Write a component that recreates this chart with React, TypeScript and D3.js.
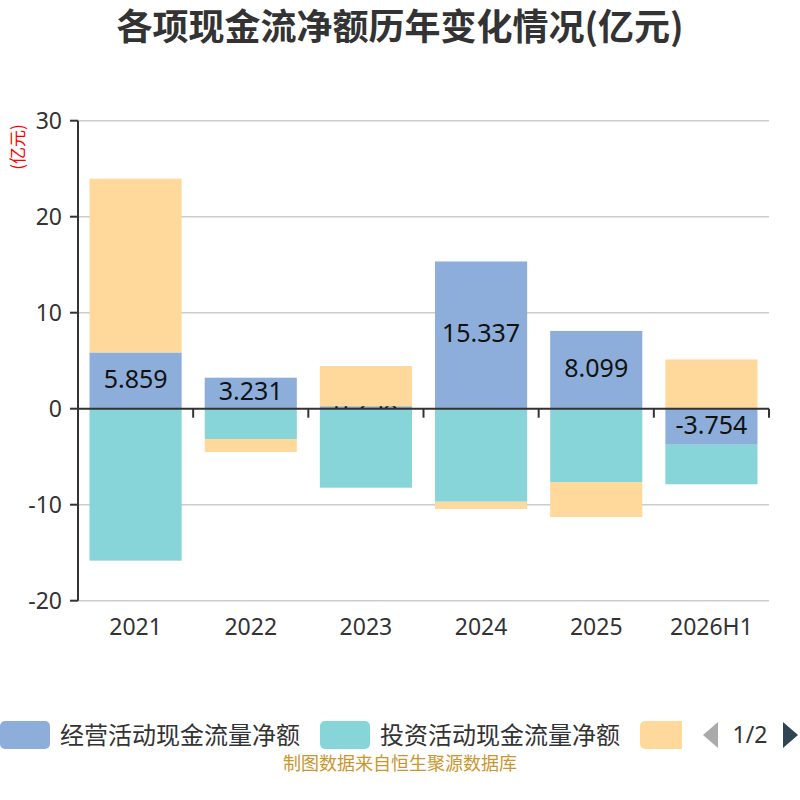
import React from 'react';
import * as d3 from 'd3';

const categories = ['2021', '2022', '2023', '2024', '2025', '2026H1'];
const operating = [5.859, 3.231, 0.258, 15.337, 8.099, -3.754];
const investing = [-15.83, -3.16, -8.23, -9.69, -7.64, -4.12];
const financing = [18.1, -1.35, 4.19, -0.76, -3.64, 5.13];
const yTicks = [-20, -10, 0, 10, 20, 30];

const seriesNames = ['经营活动现金流量净额', '投资活动现金流量净额', '筹资活动现金流量净额'];
const seriesColors = ['#8DAEDA', '#87D5D9', '#FED99B'];

const W = 800;
const H = 800;
const left = 78;
const right = 769;
const top = 120.7;
const bottom = 600.7;

const numFont = "'Noto Sans', 'Noto Sans CJK SC', sans-serif";
const cjkFont = "'Noto Sans CJK SC', 'Noto Sans', sans-serif";

export default function App() {
  const y = d3.scaleLinear().domain([-20, 30]).range([bottom, top]);
  const x = d3.scaleBand<string>().domain(categories).range([left, right]).paddingInner(0.2).paddingOuter(0.1);
  const step = x.step();
  const bw = x.bandwidth();

  const allSeries = [operating, investing, financing];
  type Seg = { cat: string; s: number; y0: number; y1: number; v: number };
  const segs: Seg[] = [];
  categories.forEach((cat, i) => {
    let pos = 0;
    let neg = 0;
    allSeries.forEach((arr, s) => {
      const v = arr[i];
      if (v >= 0) {
        segs.push({ cat, s, y0: pos, y1: pos + v, v });
        pos += v;
      } else {
        segs.push({ cat, s, y0: neg, y1: neg + v, v });
        neg += v;
      }
    });
  });

  const boundaries = d3.range(categories.length + 1).map((k) => left + k * step);

  return (
    <div style={{ position: 'absolute', left: 0, top: 0 }}>
      <svg width={W} height={H} style={{ display: 'block', background: '#fff' }}>
        <defs>
          {segs
            .filter((d) => d.s === 0)
            .map((d, i) => (
              <clipPath id={`clip-op-${i}`} key={i}>
                <rect
                  x={x(d.cat)!}
                  y={Math.min(y(d.y0), y(d.y1))}
                  width={bw}
                  height={Math.abs(y(d.y1) - y(d.y0))}
                />
              </clipPath>
            ))}
          <clipPath id="legend-clip">
            <rect x={0} y={700} width={682} height={80} />
          </clipPath>
        </defs>

        <text x={400} y={40} textAnchor="middle" fontFamily={cjkFont} fontWeight="bold" fontSize={36} fill="#333">
          各项现金流净额历年变化情况(亿元)
        </text>

        <text
          transform={`translate(18,147) rotate(-90)`}
          textAnchor="middle"
          dy="0.36em"
          fontFamily={cjkFont}
          fontSize={17}
          fill="#ff0000"
        >
          (亿元)
        </text>

        {/* grid lines */}
        {yTicks
          .filter((t) => t !== 0)
          .map((t) => (
            <line key={t} x1={left} x2={right} y1={y(t)} y2={y(t)} stroke="#cccccc" strokeWidth={1.5} />
          ))}

        {/* bars */}
        {segs.map((d, i) => (
          <rect
            key={i}
            x={x(d.cat)!}
            y={Math.min(y(d.y0), y(d.y1))}
            width={bw}
            height={Math.abs(y(d.y1) - y(d.y0))}
            fill={seriesColors[d.s]}
          />
        ))}

        {/* labels for operating series */}
        {segs
          .filter((d) => d.s === 0)
          .map((d, i) => (
            <text
              key={i}
              clipPath={`url(#clip-op-${i})`}
              x={x(d.cat)! + bw / 2}
              y={(y(d.y0) + y(d.y1)) / 2 - 2}
              dy="0.36em"
              textAnchor="middle"
              fontFamily={numFont}
              fontSize={25}
              fill="#111"
            >
              {d.v.toFixed(3)}
            </text>
          ))}

        {/* y axis */}
        <line x1={left} x2={left} y1={top} y2={bottom} stroke="#333" strokeWidth={2} />
        {yTicks.map((t) => (
          <g key={t}>
            <line x1={left - 8} x2={left} y1={y(t)} y2={y(t)} stroke="#333" strokeWidth={2} />
            <text
              x={left - 16}
              y={y(t)}
              dy="0.36em"
              textAnchor="end"
              fontFamily={numFont}
              fontSize={23}
              fill="#333"
            >
              {t}
            </text>
          </g>
        ))}

        {/* x axis at zero */}
        <line x1={left} x2={right} y1={y(0)} y2={y(0)} stroke="#333" strokeWidth={2} />
        {boundaries.map((bx, k) => (
          <line key={k} x1={bx} x2={bx} y1={y(0)} y2={y(0) + 9} stroke="#333" strokeWidth={2} />
        ))}
        {categories.map((c) => (
          <text
            key={c}
            x={x(c)! + bw / 2}
            y={627}
            dy="0.36em"
            textAnchor="middle"
            fontFamily={numFont}
            fontSize={23}
            fill="#333"
          >
            {c}
          </text>
        ))}

        {/* legend */}
        <g clipPath="url(#legend-clip)">
          {seriesNames.map((n, i) => (
            <g key={n}>
              <rect x={i * 320} y={721} width={50} height={28} rx={5} fill={seriesColors[i]} />
              <text x={i * 320 + 60} y={735} dy="0.36em" fontFamily={cjkFont} fontSize={24} fill="#333">
                {n}
              </text>
            </g>
          ))}
        </g>
        <path d="M718,722 L703,735 L718,748 Z" fill="#aaaaaa" />
        <text x={750} y={735} dy="0.36em" textAnchor="middle" fontFamily={numFont} fontSize={23} fill="#333">
          1/2
        </text>
        <path d="M783,722 L798,735 L783,748 Z" fill="#2f4554" />

        <text x={400} y={764} dy="0.36em" textAnchor="middle" fontFamily={cjkFont} fontSize={18} fill="#c9962f">
          制图数据来自恒生聚源数据库
        </text>
      </svg>
    </div>
  );
}
